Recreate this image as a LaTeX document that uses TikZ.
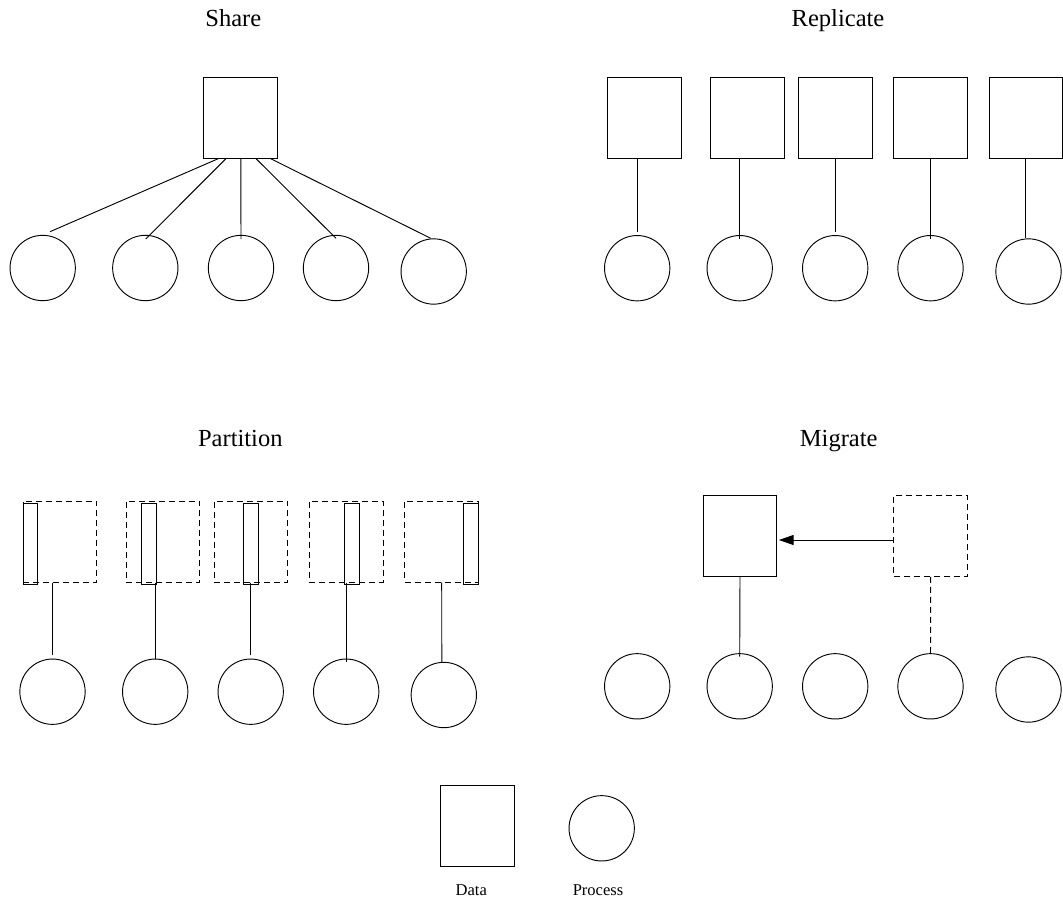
\documentclass[tikz,border=0pt]{standalone}
\usepackage{fontspec}
\setmainfont{Liberation Serif}
\usetikzlibrary{calc,arrows.meta}
\begin{document}
\begin{tikzpicture}[x=0.75pt,y=-0.75pt,
  line width=0.7pt,
  datasq/.style={draw,rectangle,inner sep=0pt,minimum width=55.3pt,minimum height=60.8pt},
  ghostsq/.style={datasq,dash pattern=on 4.5pt off 3pt},
  proc/.style={draw,circle,inner sep=0pt,minimum size=49pt},
  slice/.style={draw,rectangle,inner sep=0pt,minimum width=11pt,minimum height=60.5pt},
  title/.style={anchor=base,font=\fontsize{18.4}{22}\selectfont},
  legend/.style={anchor=base,font=\fontsize{12.4}{15}\selectfont},
  dlink/.style={dash pattern=on 4.5pt off 3pt}
]
\useasboundingbox (0,0) rectangle (1063,903);

% ---------- titles ----------
\node[title] (tshare) at (233.3,26.7) {Share};
\node[title] (trepl)  at (838,26.7)   {Replicate};
\node[title] (tpart)  at (240.3,446.7) {Partition};
\node[title] (tmigr)  at (838.7,446.7) {Migrate};

% ---------- Share: one data block, all processes attached ----------
\node[datasq] (s0) at (240.8,117.8) {};
\foreach \x/\y [count=\i] in {42.7/268,145.3/268,241/268,336/268,433.7/271.5}
  \node[proc] (sc\i) at (\x,\y) {};
\draw ($(s0.south west)!0.194!(s0.south east)$) -- ($(sc1.center)+(7.3,-36.3)$);
\draw ($(s0.south west)!0.299!(s0.south east)$) -- ($(sc2.center)+(0.4,-29)$);
\draw (s0.south) -- ($(sc3.center)+(0,-29)$);
\draw ($(s0.south west)!0.706!(s0.south east)$) -- ($(sc4.center)+(0,-29.7)$);
\draw ($(s0.south west)!0.903!(s0.south east)$) -- ($(sc5.center)+(-3,-33.2)$);

% ---------- Replicate: one copy per process ----------
\foreach \x [count=\i] in {644.3,747.3,835.2,930.5,1026}
  \node[datasq] (rs\i) at (\x,117.8) {};
\foreach \x/\y [count=\i] in {637.2/268.2,739.7/268.2,835.2/268.2,930.5/268.2,1028.5/271.5}
  \node[proc] (rc\i) at (\x,\y) {};
\draw (rs1.south -| rc1) -- ($(rc1.center)+(0,-36.5)$);
\draw (rs2.south -| rc2) -- ($(rc2.center)+(0,-29.2)$);
\draw (rs3.south -| rc3) -- ($(rc3.center)+(0,-36.5)$);
\draw (rs4.south -| rc4) -- ($(rc4.center)+(0,-29.2)$);
\draw ($(rs5.south)+(-0.3,0)$) -- ($(rc5.center)+(-2.8,-33.2)$);

% ---------- Partition: each process holds one slice ----------
\foreach \x [count=\i] in {60,162.85,250.85,346.35,441.5}
  \node[ghostsq] (pd\i) at (\x,541.5) {};
\foreach \x [count=\i] in {30.35,149,250.8,352,471}
  \node[slice] (ps\i) at (\x,544) {};
\foreach \x/\y [count=\i] in {52.5/691.7,155.2/691.7,250.7/691.7,346.2/691.7,443.8/695}
  \node[proc] (pc\i) at (\x,\y) {};
\draw (pd1.south -| pc1) -- ($(pc1.center)+(0,-36.7)$);
\draw (pd2.south -| pc2) -- ($(pc2.center)+(0,-32.7)$);
\draw (pd3.south -| pc3) -- ($(pc3.center)+(0,-36.7)$);
\draw (pd4.south -| pc4) -- ($(pc4.center)+(0,-30)$);
\draw ($(pd5.south)+(0.2,0)$) -- ($(pc5.center)+(-2,-32.7)$);

% ---------- Migrate: data moves to another process ----------
\node[datasq]  (ms) at (740,535.8) {};
\node[ghostsq] (md) at (930.7,535.8) {};
\foreach \x/\y [count=\i] in {637.2/686.3,739.7/686.3,835.2/686.3,930.5/686.3,1028.5/689.5}
  \node[proc] (mc\i) at (\x,\y) {};
\draw[-{Triangle[length=11pt,width=7.5pt]},shorten >=1.2pt]
  ($(md.west)+(0,4.2)$) -- ($(ms.east)+(0,4.2)$);
\draw (ms.south) -- ($(mc2.center)+(0,-29.6)$);
\draw[dlink] (md.south) -- ($(mc4.center)+(0,-29.6)$);

% ---------- legend ----------
\node[datasq] (ld) at (477.5,825.7) {};
\node[proc]   (lp) at (601.7,828.3) {};
\node[legend] (ldt) at (471.3,895.7) {Data};
\node[legend] (lpt) at (598,895.7) {Process};
\end{tikzpicture}
\end{document}
